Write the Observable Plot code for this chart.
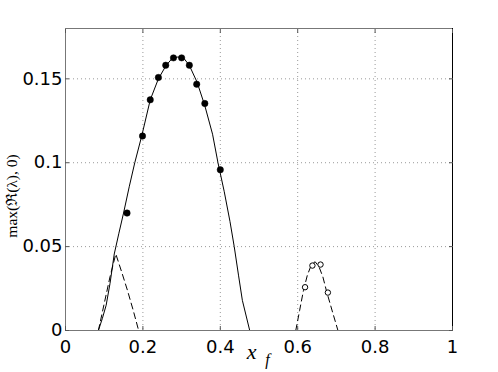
<!DOCTYPE html>
<html>
<head>
<meta charset="utf-8">
<script src="https://cdn.jsdelivr.net/npm/d3@7"></script>
<script src="https://cdn.jsdelivr.net/npm/@observablehq/plot@0.6"></script>
<style>
  html, body { margin: 0; padding: 0; background: #fff; }
  svg { display: block; }
</style>
</head>
<body>
<div id="chart"></div>
<script>
// Tick positions and labels
const xTicks = [0, 0.2, 0.4, 0.6, 0.8, 1];
const xTickLabels = ["0", "0.2", "0.4", "0.6", "0.8", "1"];
const yTicks = [0, 0.05, 0.1, 0.15];
const yTickLabels = ["0", "0.05", "0.1", "0.15"];
const xGrid = [0.2, 0.4, 0.6, 0.8];
const yGrid = [0.05, 0.1, 0.15];
const xDomain = [0, 1];
const yDomain = [0, 0.18];

// Solid curve
const solidX = [0.085, 0.095, 0.105, 0.115, 0.126, 0.138, 0.150, 0.165, 0.179, 0.197, 0.219, 0.24, 0.26, 0.275, 0.29, 0.305, 0.32, 0.34, 0.36, 0.38, 0.394, 0.41, 0.425, 0.436, 0.447, 0.457, 0.476];
const solidY = [0, 0.007, 0.015, 0.028, 0.0456, 0.058, 0.070, 0.086, 0.100, 0.116, 0.1375, 0.150, 0.158, 0.162, 0.163, 0.1625, 0.158, 0.148, 0.134, 0.117, 0.100, 0.083, 0.065, 0.050, 0.033, 0.018, 0];

// Dashed curve 1
const dash1X = [0.085, 0.100, 0.115, 0.130, 0.145, 0.160, 0.175, 0.189];
const dash1Y = [0, 0.016, 0.032, 0.0456, 0.035, 0.024, 0.012, 0];

// Dashed curve 2
const dash2X = [0.595, 0.605, 0.615, 0.625, 0.635, 0.645, 0.655, 0.665, 0.675, 0.690, 0.704];
const dash2Y = [0, 0.012, 0.024, 0.033, 0.039, 0.041, 0.038, 0.032, 0.023, 0.011, 0];

// Filled markers
const filledX = [0.159, 0.199, 0.219, 0.240, 0.259, 0.279, 0.300, 0.320, 0.339, 0.360, 0.400];
const filledY = [0.0700, 0.1159, 0.1375, 0.1508, 0.1581, 0.1625, 0.1625, 0.1581, 0.1468, 0.1353, 0.0958];

// Open markers
const openX = [0.619, 0.638, 0.659, 0.678];
const openY = [0.0258, 0.0387, 0.0393, 0.0226];

const yLabel = "max(ℜ(λ), 0)";
const xLabelMain = "x";
const xLabelSub = "f";

const toPts = (xs, ys) => xs.map((x, i) => ({x, y: ys[i]}));
const solid = toPts(solidX, solidY);
const dash1 = toPts(dash1X, dash1Y);
const dash2 = toPts(dash2X, dash2Y);
const filled = toPts(filledX, filledY);
const open = toPts(openX, openY);

const fmtX = d => xTickLabels[xTicks.indexOf(d)];
const fmtY = d => yTickLabels[yTicks.indexOf(d)];
const tickFont = "DejaVu Sans, sans-serif";
const serif = "Liberation Serif, DejaVu Serif, serif";

const chart = Plot.plot({
  width: 498,
  height: 372,
  marginLeft: 65,
  marginRight: 46,
  marginTop: 28,
  marginBottom: 42,
  x: {domain: xDomain},
  y: {domain: yDomain},
  style: {fontFamily: tickFont, background: "#fff", overflow: "visible"},
  marks: [
    Plot.ruleX(xGrid, {stroke: "#999", strokeDasharray: "1,3", strokeWidth: 1}),
    Plot.ruleY(yGrid, {stroke: "#999", strokeDasharray: "1,3", strokeWidth: 1}),
    Plot.line(solid, {x: "x", y: "y", stroke: "#000", strokeWidth: 1}),
    Plot.line(dash1, {x: "x", y: "y", stroke: "#000", strokeWidth: 1, strokeDasharray: "6,4"}),
    Plot.line(dash2, {x: "x", y: "y", stroke: "#000", strokeWidth: 1, strokeDasharray: "6,4"}),
    Plot.dot(filled, {x: "x", y: "y", r: 3.2, fill: "#000", stroke: "#000", strokeWidth: 0.5}),
    Plot.dot(open, {x: "x", y: "y", r: 2.7, fill: "#fff", stroke: "#000", strokeWidth: 1}),
    // frame
    Plot.ruleX([xDomain[0]], {stroke: "#777", strokeWidth: 1}),
    Plot.ruleX([xDomain[1]], {stroke: "#000", strokeWidth: 1}),
    Plot.ruleY([yDomain[0]], {stroke: "#777", strokeWidth: 1}),
    Plot.ruleY([yDomain[1]], {stroke: "#777", strokeWidth: 1}),
    // axes
    Plot.axisX(xTicks, {anchor: "bottom", tickSize: -4, tickPadding: 14, tickFormat: fmtX, fontSize: 18, label: null, stroke: "#555"}),
    Plot.axisX(xTicks, {anchor: "top", tickSize: -4, tickFormat: () => "", label: null, stroke: "#555"}),
    Plot.axisY(yTicks, {anchor: "left", tickSize: -4, tickPadding: 7, tickFormat: fmtY, fontSize: 18, label: null, stroke: "#555"}),
    Plot.axisY(yTicks, {anchor: "right", tickSize: -4, tickFormat: () => "", label: null, stroke: "#555"}),
    // labels
    Plot.text([yLabel], {frameAnchor: "left", textAnchor: "middle", lineAnchor: "middle", dx: -53, dy: 16.5, rotate: -90, fontFamily: serif, fontSize: 15.5, fill: "#000"}),
    Plot.text([xLabelMain], {frameAnchor: "bottom", textAnchor: "middle", lineAnchor: "middle", dx: -7.5, dy: 21.3, fontFamily: serif, fontStyle: "italic", fontSize: 22, fill: "#000"}),
    Plot.text([xLabelSub], {frameAnchor: "bottom", textAnchor: "middle", lineAnchor: "middle", dx: 8.5, dy: 29, fontFamily: serif, fontStyle: "italic", fontSize: 16, fill: "#000"})
  ]
});

document.getElementById("chart").appendChild(chart);
</script>
</body>
</html>
